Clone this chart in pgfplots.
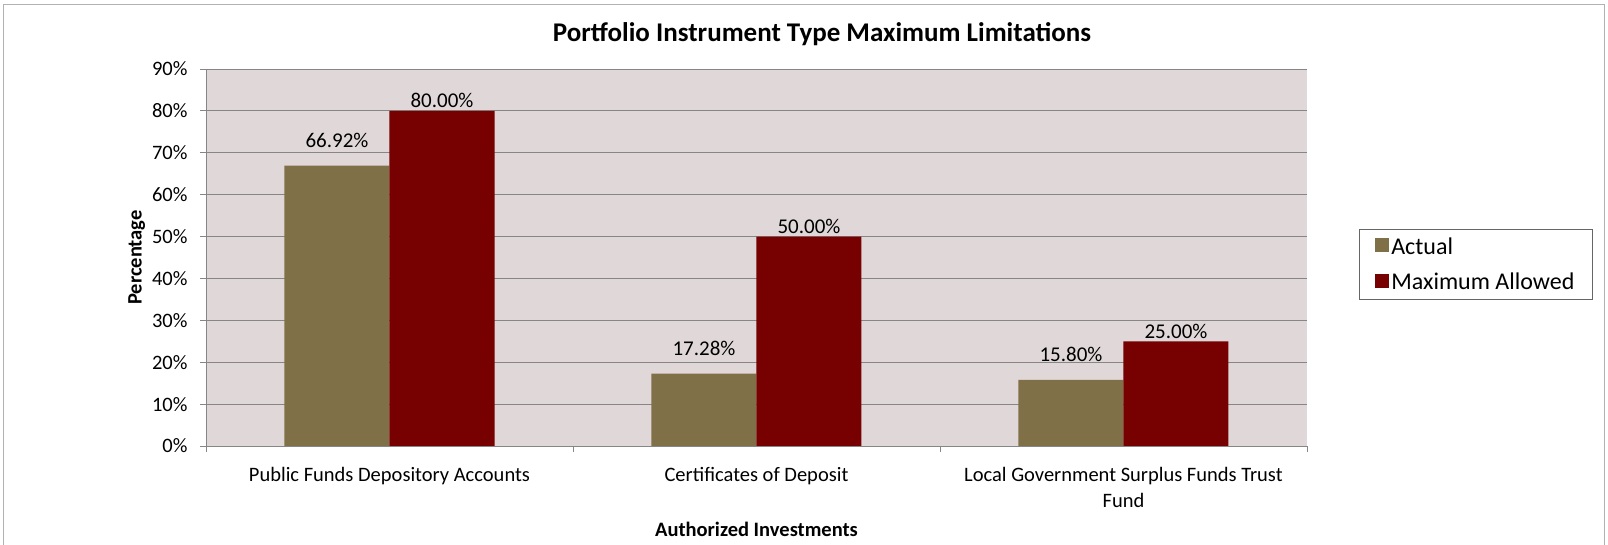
\documentclass[border=0pt]{standalone}
\usepackage{pgfplots}
\pgfplotsset{compat=1.18}
\usepackage{fontspec}
\setmainfont{Carlito}
\definecolor{actualc}{RGB}{128,112,72}
\definecolor{maxc}{RGB}{119,0,0}
\definecolor{bgc}{RGB}{224,216,216}
\definecolor{gridc}{RGB}{134,134,134}
\pgfplotsset{sqlegend/.style={legend image code/.code={\fill[##1] (0pt,-6pt) rectangle (14pt,8pt);}}}
\begin{document}
\begin{tikzpicture}[x=1pt,y=1pt]
\useasboundingbox (0,0) rectangle (1608,545);
\draw[gray!60, line width=1.2pt] (3.5,-2) -- (3.5,540.5) -- (1604.5,540.5) -- (1604.5,-2);
\node[font=\fontsize{27}{31}\selectfont\bfseries] at (822,511) {Portfolio Instrument Type Maximum Limitations};
\begin{axis}[
  at={(206pt,99pt)}, anchor=south west,
  width=1101pt, height=377pt, scale only axis,
  ymin=0, ymax=90, ytick={0,10,...,90},
  xmin=-0.5, xmax=2.5,
  ybar=0pt, bar width=105pt,
  axis background/.style={fill=bgc},
  axis x line*=bottom, axis y line*=left,
  axis line style={gridc, line width=0.8pt, -},
  ymajorgrids, grid style={gridc, line width=0.8pt},
  tick align=outside, major tick length=6pt,
  ytick style={gridc, line width=0.8pt},
  yticklabel={\pgfmathprintnumber{\tick}\%},
  yticklabel style={xshift=-9pt},
  /pgf/number format/assume math mode=true,
  xtick={0,1,2},
  xticklabels={Public Funds Depository Accounts, Certificates of Deposit, {Local Government Surplus Funds Trust\\Fund}},
  xtick style={draw=none},
  extra x ticks={-0.5,0.5,1.5,2.5},
  extra x tick labels={},
  extra x tick style={xtick style={draw=gridc, line width=0.8pt}},
  tick label style={font=\fontsize{20.5}{26}\selectfont},
  xticklabel style={align=center, anchor=north, yshift=-12pt},
  label style={font=\fontsize{20.5}{24}\selectfont\bfseries},
  xlabel={Authorized Investments},
  ylabel={Percentage},
  xlabel style={at={(axis description cs:0.5,-0.22)}, anchor=center},
  ylabel style={at={(axis description cs:-0.063,0.5)}, anchor=center, rotate=0},
  legend style={at={(axis description cs:1.0472,0.5756)}, anchor=north west,
    draw=black!60, line width=0.8pt, font=\fontsize{24}{28}\selectfont,
    inner xsep=16pt, inner ysep=6pt, row sep=13.5pt, legend cell align=left,
    /tikz/every even column/.append style={column sep=7pt}},
  nodes near coords={\pgfmathprintnumber[fixed,fixed zerofill,precision=2]{\pgfplotspointmeta}\%},
  nodes near coords style={font=\fontsize{21}{24}\selectfont, text=black},
]
\addplot+[fill=actualc, draw=none, sqlegend, every node near coord/.append style={anchor=center, yshift=25pt}]
  coordinates {(0,66.92) (1,17.28) (2,15.80)};
\addplot+[fill=maxc, draw=none, sqlegend, every node near coord/.append style={anchor=center, yshift=10pt}]
  coordinates {(0,80.00) (1,50.00) (2,25.00)};
\legend{Actual, Maximum Allowed}
\end{axis}
\end{tikzpicture}
\end{document}
